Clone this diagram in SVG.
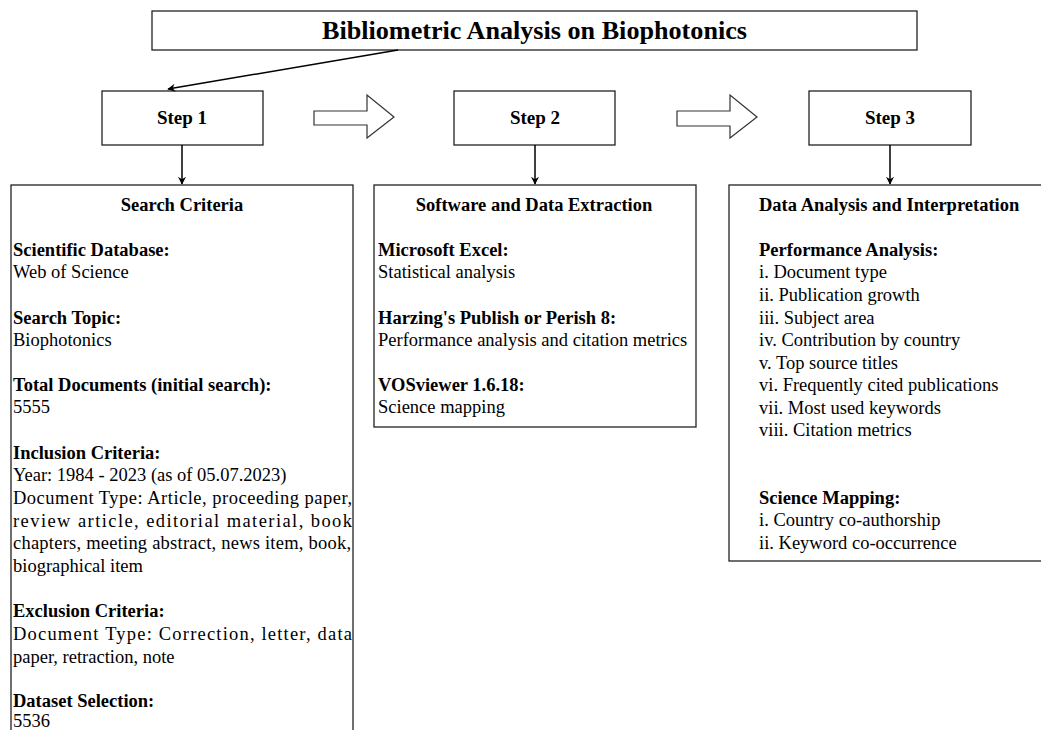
<svg xmlns="http://www.w3.org/2000/svg" width="1041" height="730" viewBox="0 0 1041 730">
<defs>
<marker id="ah" viewBox="0 0 10 10" refX="9" refY="5" markerWidth="8" markerHeight="8" markerUnits="userSpaceOnUse" orient="auto"><path d="M0,0 L10,5 L0,10 L3,5 z" fill="#000"/></marker>
<style>
.box{fill:#fff;stroke:#222;stroke-width:1.3}
.t{font-family:"Liberation Serif","Times New Roman",serif;font-size:18.5px;fill:#000}
.b{font-weight:bold}
.c{text-anchor:middle}
.con{stroke:#000;stroke-width:1.5;fill:none}
.blk{fill:#fff;stroke:#333;stroke-width:1.2}
</style>
</defs>
<rect width="1041" height="730" fill="#fff"/>
<g id="title">
<rect class="box" x="152" y="11" width="765" height="39"/>
<text class="t b c" x="534.5" y="39" style="font-size:25px" textLength="425" lengthAdjust="spacingAndGlyphs">Bibliometric Analysis on Biophotonics</text>
</g>
<g id="step1">
<rect class="box" x="102" y="91" width="161" height="54"/>
<text class="t b c" x="182" y="124" style="font-size:19px">Step 1</text>
</g>
<g id="step2">
<rect class="box" x="454" y="91" width="161" height="54"/>
<text class="t b c" x="535" y="124" style="font-size:19px">Step 2</text>
</g>
<g id="step3">
<rect class="box" x="809" y="91" width="162" height="54"/>
<text class="t b c" x="890" y="124" style="font-size:19px">Step 3</text>
</g>
<g id="connectors">
<line class="con" x1="398" y1="50" x2="168" y2="89" marker-end="url(#ah)"/>
<line class="con" x1="182" y1="145" x2="182" y2="184" marker-end="url(#ah)"/>
<line class="con" x1="535" y1="145" x2="535" y2="184" marker-end="url(#ah)"/>
<line class="con" x1="890" y1="145" x2="890" y2="184" marker-end="url(#ah)"/>
<path class="blk" d="M314,111 L367,111 L367,95 L394,117 L367,138 L367,125 L314,125 Z"/>
<path class="blk" d="M677,111 L730,111 L730,95 L757,117 L730,138 L730,126 L677,126 Z"/>
</g>
<g id="search-criteria">
<rect class="box" x="11" y="185" width="342" height="560"/>
<text class="t b c" x="182" y="211">Search Criteria</text>
<text class="t b" x="13" y="256">Scientific Database:</text>
<text class="t" x="13" y="278">Web of Science</text>
<text class="t b" x="13" y="324">Search Topic:</text>
<text class="t" x="13" y="346">Biophotonics</text>
<text class="t b" x="13" y="391">Total Documents (initial search):</text>
<text class="t" x="13" y="413">5555</text>
<text class="t b" x="13" y="459">Inclusion Criteria:</text>
<text class="t" x="13" y="481">Year: 1984 - 2023 (as of 05.07.2023)</text>
<text class="t" x="13" y="504" textLength="339" lengthAdjust="spacing">Document Type: Article, proceeding paper,</text>
<text class="t" x="13" y="527" textLength="339" lengthAdjust="spacing">review article, editorial material, book</text>
<text class="t" x="13" y="549" textLength="338" lengthAdjust="spacing">chapters, meeting abstract, news item, book,</text>
<text class="t" x="13" y="572">biographical item</text>
<text class="t b" x="13" y="617">Exclusion Criteria:</text>
<text class="t" x="13" y="640" textLength="339" lengthAdjust="spacing">Document Type: Correction, letter, data</text>
<text class="t" x="13" y="663">paper, retraction, note</text>
<text class="t b" x="13" y="707">Dataset Selection:</text>
<text class="t" x="13" y="727">5536</text>
</g>
<g id="software">
<rect class="box" x="374" y="185" width="322" height="242"/>
<text class="t b c" x="534" y="211">Software and Data Extraction</text>
<text class="t b" x="378" y="256">Microsoft Excel:</text>
<text class="t" x="378" y="278">Statistical analysis</text>
<text class="t b" x="378" y="324">Harzing's Publish or Perish 8:</text>
<text class="t" x="378" y="346">Performance analysis and citation metrics</text>
<text class="t b" x="378" y="391">VOSviewer 1.6.18:</text>
<text class="t" x="378" y="413">Science mapping</text>
</g>
<g id="analysis">
<rect class="box" x="729" y="185" width="330" height="376"/>
<text class="t b" x="759" y="211">Data Analysis and Interpretation</text>
<text class="t b" x="759" y="256">Performance Analysis:</text>
<text class="t" x="759" y="278">i. Document type</text>
<text class="t" x="759" y="301">ii. Publication growth</text>
<text class="t" x="759" y="324">iii. Subject area</text>
<text class="t" x="759" y="346">iv. Contribution by country</text>
<text class="t" x="759" y="369">v. Top source titles</text>
<text class="t" x="759" y="391">vi. Frequently cited publications</text>
<text class="t" x="759" y="414">vii. Most used keywords</text>
<text class="t" x="759" y="436">viii. Citation metrics</text>
<text class="t b" x="759" y="504">Science Mapping:</text>
<text class="t" x="759" y="526">i. Country co-authorship</text>
<text class="t" x="759" y="549">ii. Keyword co-occurrence</text>
</g>
</svg>
